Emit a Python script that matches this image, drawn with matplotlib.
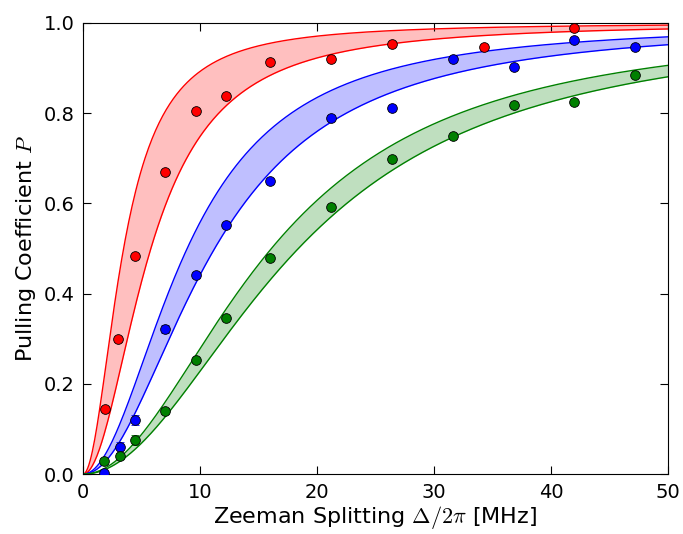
import numpy as np
import matplotlib
matplotlib.use('Agg')
import matplotlib.pyplot as plt

plt.rcParams['mathtext.fontset'] = 'cm'

# measured pulling coefficient vs Zeeman splitting (MHz)
x_red = [1.88, 2.99, 4.44, 7.0, 9.66, 12.2, 16.0, 21.2, 26.4, 34.3, 42.0]
p_red = [0.144, 0.299, 0.483, 0.67, 0.805, 0.838, 0.914, 0.92, 0.953, 0.947, 0.989]
e_red = [0.005, 0.005, 0.005, 0.005, 0.005, 0.005, 0.005, 0.005, 0.005, 0.005, 0.005]

x_blue = [1.8, 3.16, 4.44, 7.0, 9.66, 12.2, 16.0, 21.2, 26.4, 31.6, 36.8, 42.0, 47.2]
p_blue = [0.002, 0.06, 0.12, 0.321, 0.441, 0.552, 0.65, 0.79, 0.812, 0.92, 0.902, 0.962, 0.947]
e_blue = [0.006, 0.012, 0.011, 0.009, 0.006, 0.005, 0.005, 0.005, 0.005, 0.005, 0.005, 0.005, 0.005]

x_green = [1.8, 3.16, 4.44, 7.0, 9.66, 12.2, 16.0, 21.2, 26.4, 31.6, 36.8, 42.0, 47.2]
p_green = [0.029, 0.04, 0.075, 0.14, 0.253, 0.346, 0.479, 0.592, 0.698, 0.749, 0.818, 0.825, 0.885]
e_green = [0.006, 0.006, 0.011, 0.006, 0.005, 0.005, 0.005, 0.005, 0.005, 0.005, 0.005, 0.005, 0.005]

# fitted widths (MHz) bounding each theory band, P = D^2/(D^2+G^2)
gamma_red = [3.47, 5.8]
gamma_blue = [8.9, 11.25]
gamma_green = [16.1, 18.4]


def pulling(d, g):
    return d**2 / (d**2 + g**2)


fig = plt.figure(figsize=(6.83, 5.34), dpi=100)
ax = fig.add_axes([0.1215, 0.112, 0.8565, 0.845])

d = np.linspace(0, 50, 500)
sets = [(x_red, p_red, e_red, gamma_red, 'r'),
        (x_blue, p_blue, e_blue, gamma_blue, 'b'),
        (x_green, p_green, e_green, gamma_green, 'g')]
green = (0, 0.5, 0)
for xs, ps, es, gam, c in sets:
    col = green if c == 'g' else c
    hi = pulling(d, gam[0])
    lo = pulling(d, gam[1])
    ax.fill_between(d, lo, hi, color=col, alpha=0.25, lw=0)
    ax.plot(d, hi, color=col, lw=1)
    ax.plot(d, lo, color=col, lw=1)
    ax.errorbar(xs, ps, yerr=es, fmt='o', color=col, ms=7, mec='k', mew=0.6,
                capsize=3, elinewidth=1, zorder=5)

ax.set_xlim(0, 50)
ax.set_ylim(0, 1.0)
ax.set_xticks([0, 10, 20, 30, 40, 50])
ax.set_yticks([0.0, 0.2, 0.4, 0.6, 0.8, 1.0])
ax.set_yticklabels(['0.0', '0.2', '0.4', '0.6', '0.8', '1.0'])
ax.tick_params(direction='in', top=True, right=True, length=6, labelsize=14, pad=6)
ax.set_xlabel(r'Zeeman Splitting $\Delta/2\pi$ [MHz]', fontsize=16, labelpad=2)
ax.set_ylabel(r'Pulling Coefficient $P$', fontsize=16)

fig.savefig('out.png', dpi=100)
